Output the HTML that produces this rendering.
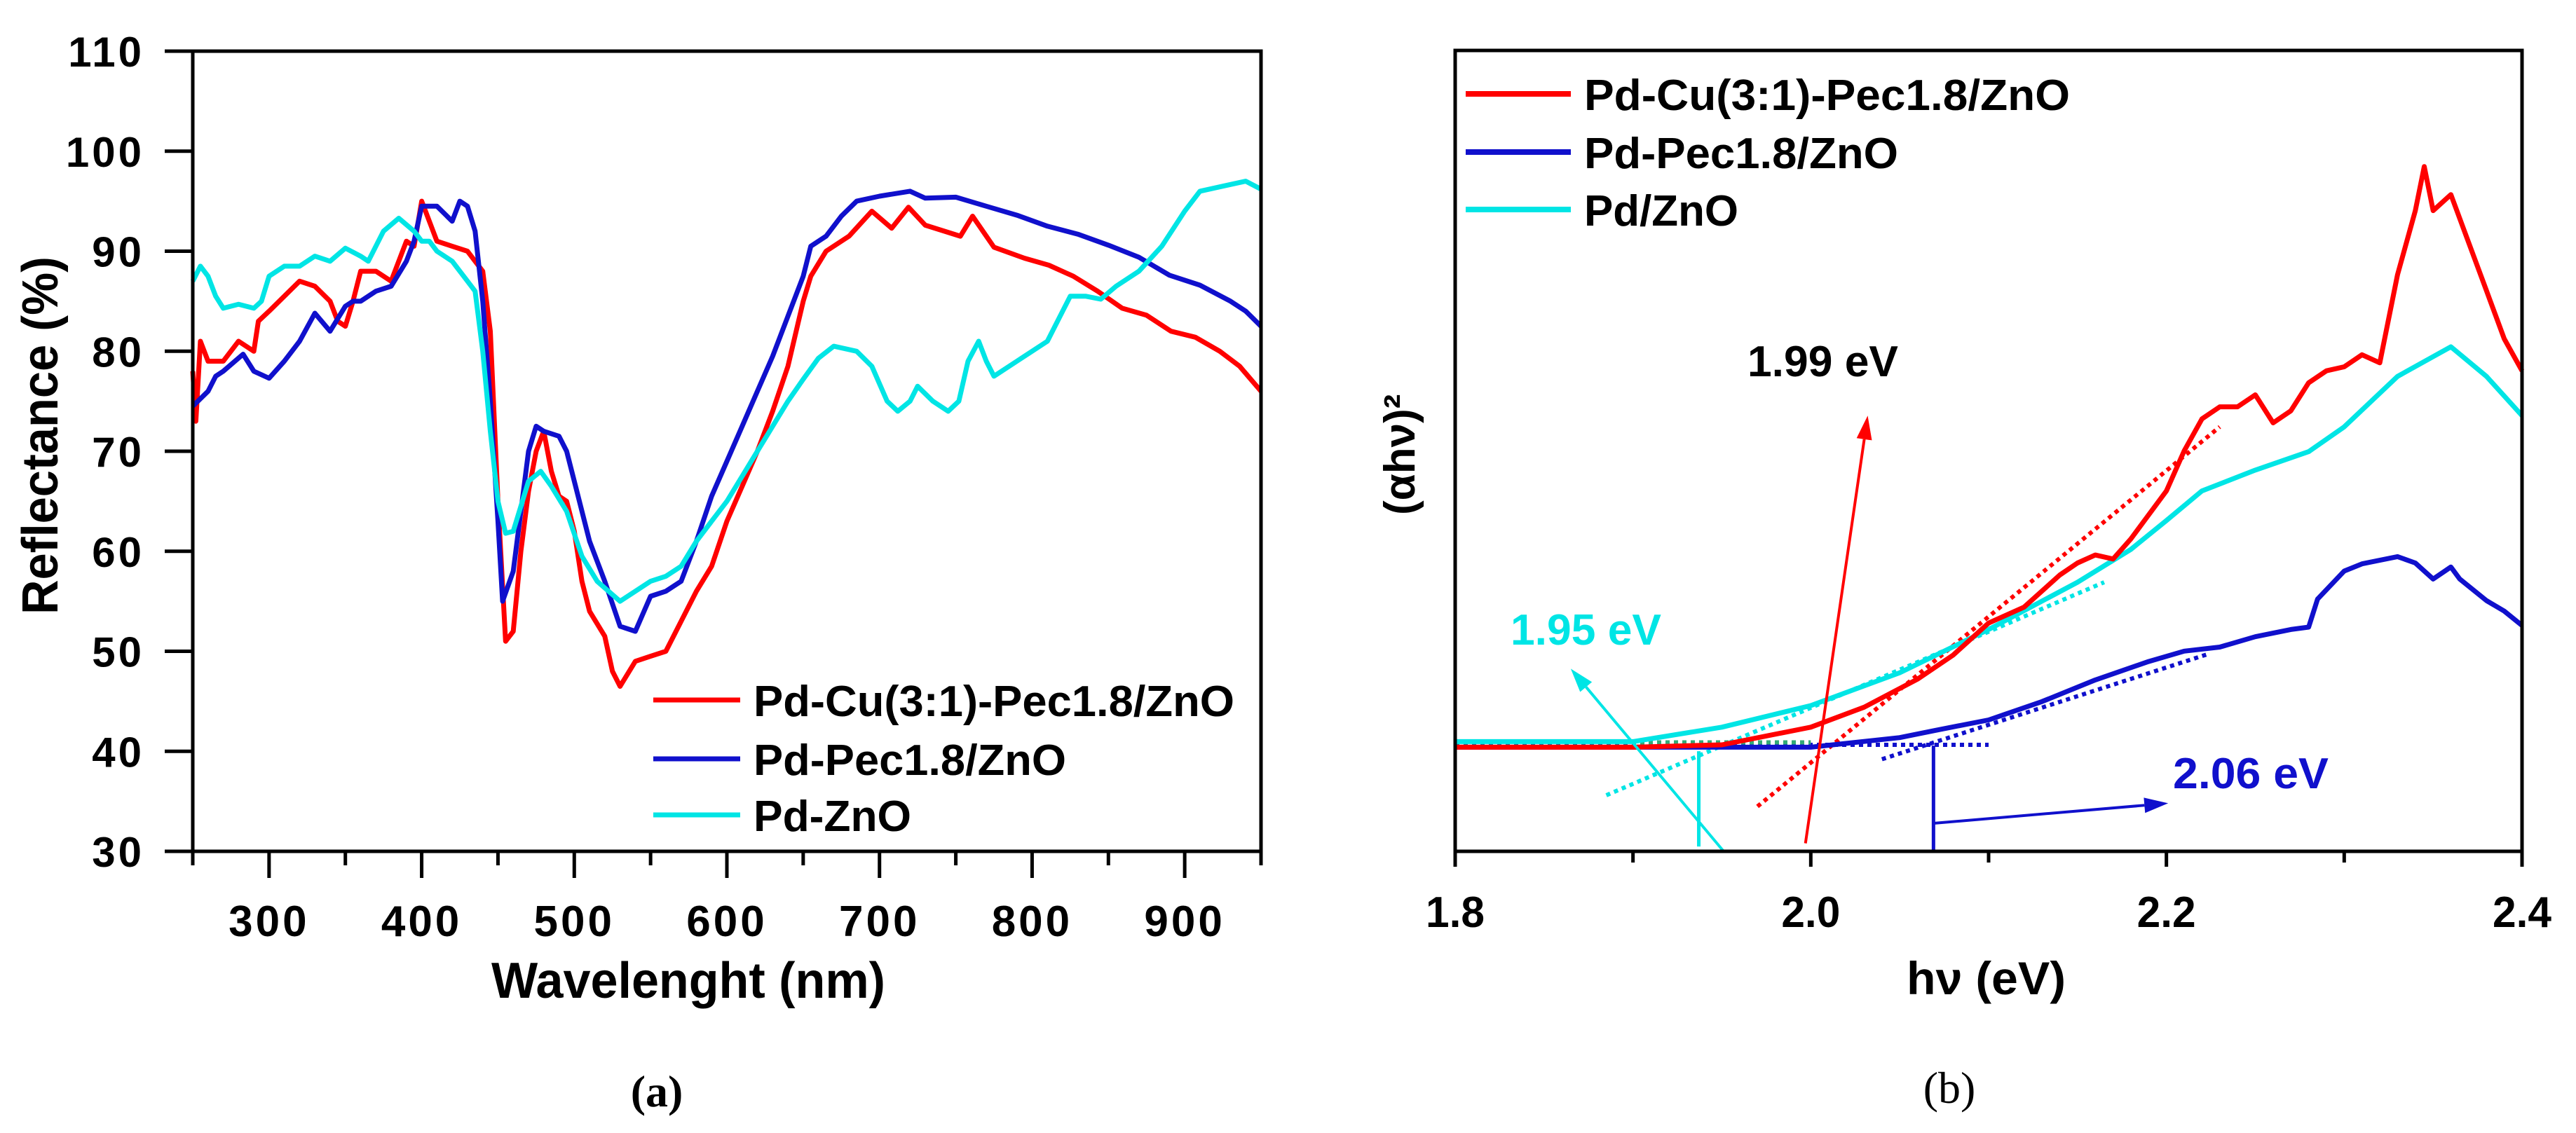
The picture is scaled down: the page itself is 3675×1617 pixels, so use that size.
<!DOCTYPE html>
<html><head><meta charset="utf-8">
<style>
html,body{margin:0;padding:0;background:#fff;}
svg{display:block;}
text{font-family:"Liberation Sans",sans-serif;}
</style></head>
<body>
<svg id="fig" width="3675" height="1617" viewBox="0 0 3675 1617" xmlns="http://www.w3.org/2000/svg">
  <rect x="0" y="0" width="3675" height="1617" fill="#fff"/>
  <g id="chartA"></g>
  <g id="chartB"></g>
</svg>
<script>
// ---------- Chart (a) data ----------
const aXTicks = [300,400,500,600,700,800,900];
const aYTicks = [30,40,50,60,70,80,90,100,110];
const aSeriesNames = ["Pd-Cu(3:1)-Pec1.8/ZnO","Pd-Pec1.8/ZnO","Pd-ZnO"];
const redX = [250,252,255,260,270,280,290,293,300,310,320,330,340,345,350,355,360,370,380,390,395,400,405,410,420,430,440,445,450,455,460,465,470,475,480,485,490,495,500,505,510,520,525,530,540,550,560,570,580,590,600,610,620,630,640,650,655,665,680,695,708,719,730,753,761,775,795,811,827,843,859,875,891,907,923,936,950];
const redY = [78,73,81,79,79,81,80,83,84,85.5,87,86.5,85,83,82.5,85,88,88,87,91,90.5,95,93,91,90.5,90,88,82,65,51,52,60,66,70,72,68,65.5,65,62,57,54,51.5,48,46.5,49,49.5,50,53,56,58.5,63,66.5,70,74,78.5,85,87.5,90,91.5,94,92.3,94.4,92.6,91.5,93.5,90.4,89.3,88.6,87.5,86,84.3,83.6,82,81.4,80,78.5,76];
const blueX = [250,260,265,270,283,290,300,310,320,330,340,350,355,360,370,380,390,395,400,410,420,425,430,435,440,445,450,453,460,465,470,475,480,490,495,500,510,520,530,540,550,560,570,580,590,600,610,620,630,640,650,655,665,675,685,700,720,730,750,770,790,810,830,850,870,890,910,930,940,950];
const blueY = [74.5,76,77.5,78,79.7,78,77.3,79,81,83.8,82,84.5,85,85,86,86.5,89,91,94.5,94.5,93,95,94.5,92,85,75,63,55,58,64,70,72.5,72,71.5,70,67,61,57,52.5,52,55.5,56,57,61,65.5,69,72.5,76,79.5,83.5,87.5,90.5,91.5,93.5,95,95.5,96,95.3,95.4,94.5,93.6,92.5,91.7,90.6,89.4,87.6,86.6,85,84,82.5];
const cyanX = [250,255,260,265,270,280,290,295,300,310,320,330,340,350,360,365,375,385,395,400,405,410,420,430,435,440,445,450,455,460,465,470,478,485,495,505,515,530,540,550,560,570,580,590,600,610,620,630,640,650,660,670,685,695,705,712,720,725,735,745,752,758,765,770,775,790,810,820,825,835,845,855,870,885,900,910,925,940,950];
const cyanY = [87,88.5,87.5,85.5,84.3,84.7,84.3,85,87.5,88.5,88.5,89.5,89,90.3,89.5,89,92,93.3,92,91,91,90,89,87,86,80,72,65,61.8,62,64.5,67,68,66.5,64,59.5,57,55,56,57,57.5,58.5,61,63,65,67.5,70,72.5,75,77.2,79.3,80.5,80,78.5,75,74,75,76.5,75,74,75,79,81,79,77.5,79,81,84,85.5,85.5,85.2,86.5,88,90.5,94,96,96.5,97,96.2];

// ---------- Chart (b) data ----------
const bXTicks = [1.8,2.0,2.2,2.4];
const bXMinor = [1.9,2.1,2.3];
const bSeriesNames = ["Pd-Cu(3:1)-Pec1.8/ZnO","Pd-Pec1.8/ZnO","Pd/ZnO"];
const rRedX = [1.80,1.90,1.95,2.00,2.03,2.06,2.08,2.10,2.12,2.14,2.15,2.16,2.17,2.18,2.20,2.21,2.22,2.23,2.24,2.25,2.26,2.27,2.28,2.29,2.30,2.31,2.32,2.33,2.34,2.345,2.35,2.36,2.37,2.38,2.39,2.40];
const rRedY = [13,13,13.3,15.5,18,21.5,24.5,28.5,30.5,34.5,36,37,36.5,39,45,50,54,55.5,55.5,57,53.5,55,58.5,60,60.5,62,61,72,80,85.5,80,82,76,70,64,60];
const rBlueX = [1.80,1.90,2.00,2.05,2.07,2.10,2.13,2.16,2.19,2.21,2.23,2.25,2.27,2.28,2.285,2.30,2.31,2.33,2.34,2.35,2.36,2.365,2.38,2.39,2.40];
const rBlueY = [13,13,13,14.2,15.1,16.4,18.7,21.4,23.7,25,25.5,26.8,27.7,28,31.5,35,35.9,36.8,36,34,35.5,34,31.3,30,28.2];
const rCyanX = [1.80,1.90,1.95,2.00,2.05,2.10,2.15,2.18,2.20,2.22,2.25,2.28,2.30,2.33,2.36,2.38,2.40];
const rCyanY = [13.7,13.7,15.5,18.2,22.3,27.7,33.6,37.7,41.3,45,47.6,49.9,53,59.3,63,59.3,54.4];
const gapRed = 1.99, gapCyan = 1.95, gapBlue = 2.06;

const NS = "http://www.w3.org/2000/svg";
function mk(parent, tag, attrs, txt){
  const e = document.createElementNS(NS, tag);
  for (const k in attrs) e.setAttribute(k, attrs[k]);
  if (txt !== undefined) e.textContent = txt;
  parent.appendChild(e);
  return e;
}
const RED="#ff0000", BLUE="#1010cc", CYAN="#00e5e5";

// ---------- Chart (a) ----------
const A = {l:275, r:1799, t:73, b:1215, x0:250, x1:950, y0:30, y1:110};
const ax = v => A.l + (v - A.x0) / (A.x1 - A.x0) * (A.r - A.l);
const ay = v => A.b - (v - A.y0) / (A.y1 - A.y0) * (A.b - A.t);
const gA = document.getElementById("chartA");

function linePath(xs, ys, fx, fy){
  return xs.map((x,i)=>(i?"L":"M")+fx(x).toFixed(1)+","+fy(ys[i]).toFixed(1)).join(" ");
}
const aData = [[redX,redY,RED],[blueX,blueY,BLUE],[cyanX,cyanY,CYAN]];
aData.forEach((d,i)=>{
  const p = mk(gA,"path",{d:linePath(d[0],d[1],ax,ay),fill:"none",stroke:d[2],"stroke-width":7,"stroke-linejoin":"round"});
  
  
});
const frameA = mk(gA,"path",{d:`M${A.l-40},${A.t} H${A.r} V${A.b} H${A.l-40} M${A.l},${A.t} V${A.b}`,fill:"none",stroke:"#000","stroke-width":5});


aYTicks.forEach(v=>{
  const t = mk(gA,"line",{x1:A.l-40,x2:A.l,y1:ay(v),y2:ay(v),stroke:"#000","stroke-width":5});
  
  
  const l = mk(gA,"text",{x:206,y:ay(v)+22,"text-anchor":"end","font-size":60,"font-weight":"bold","letter-spacing":"4"},String(v));
  
  
});
for (let v=250; v<=950; v+=50){
  const major = v%100===0;
  const t = mk(gA,"line",{x1:ax(v),x2:ax(v),y1:A.b,y2:A.b+(major?38:20),stroke:"#000","stroke-width":5});
  
  
}
aXTicks.forEach(v=>{
  const l = mk(gA,"text",{x:ax(v),y:1336,"text-anchor":"middle","font-size":62,"font-weight":"bold","letter-spacing":"4"},String(v));
  
  
});
const xtA = mk(gA,"text",{x:701,y:1424,"font-size":72,"font-weight":"bold",textLength:562,lengthAdjust:"spacingAndGlyphs"},"Wavelenght (nm)");


const ytA = mk(gA,"text",{x:0,y:0,"font-size":72,"font-weight":"bold",textLength:511,lengthAdjust:"spacingAndGlyphs",transform:"translate(82,877) rotate(-90)"},"Reflectance (%)");


const legA = [[999,RED,686],[1083,BLUE,446],[1163,CYAN,225]];
legA.forEach((r,i)=>{
  const ln = mk(gA,"line",{x1:932,x2:1056,y1:r[0],y2:r[0],stroke:r[1],"stroke-width":7});
  
  
  const tx = mk(gA,"text",{x:1075,y:r[0]+23,"font-size":62,"font-weight":"bold",textLength:r[2],lengthAdjust:"spacingAndGlyphs"},aSeriesNames[i]);
  
  
});
const capA = mk(gA,"text",{x:937,y:1579,"text-anchor":"middle",style:"font-family:'Liberation Serif',serif;font-size:64px;font-weight:bold"},"(a)");



// ---------- Chart (b) ----------
const B = {l:2076, r:3598, t:72, b:1215, x0:1.8, x1:2.4, y0:0, y1:100};
const bx = v => B.l + (v - B.x0) / (B.x1 - B.x0) * (B.r - B.l);
const by = v => B.b - (v - B.y0) / (B.y1 - B.y0) * (B.b - B.t);
const gB = document.getElementById("chartB");

const dots = [
  [1.80,13.3,2.10,13.3,BLUE],[1.80,13.6,2.00,13.6,"#33aa77"],
  [1.97,5.6,2.23,53,RED],[1.885,7,2.165,33.6,CYAN],[2.04,11.5,2.223,24.6,BLUE]
];
dots.forEach(d=>{
  const e = mk(gB,"line",{x1:bx(d[0]),y1:by(d[1]),x2:bx(d[2]),y2:by(d[3]),stroke:d[4],"stroke-width":6,"stroke-dasharray":"6 6"});
  
  
});
const bData = [[rBlueX,rBlueY,BLUE],[rCyanX,rCyanY,CYAN],[rRedX,rRedY,RED]];
bData.forEach((d,i)=>{
  const p = mk(gB,"path",{d:linePath(d[0],d[1],bx,by),fill:"none",stroke:d[2],"stroke-width":7,"stroke-linejoin":"round"});
  
  
});
function arrow(x1,y1,x2,y2,col,name){
  const X1=bx(x1),Y1=by(y1),X2=bx(x2),Y2=by(y2);
  const ang=Math.atan2(Y2-Y1,X2-X1), L=34, W=11;
  const hx=X2-L*Math.cos(ang), hy=Y2-L*Math.sin(ang);
  const g = mk(gB,"g",{});
  
  
  mk(g,"line",{x1:X1,y1:Y1,x2:hx,y2:hy,stroke:col,"stroke-width":4});
  mk(g,"polygon",{points:`${X2},${Y2} ${hx-W*Math.sin(ang)},${hy+W*Math.cos(ang)} ${hx+W*Math.sin(ang)},${hy-W*Math.cos(ang)}`,fill:col});
}
arrow(gapRed+0.007,1,2.032,54.4,RED,'arrow-1-99');
arrow(1.951,0,1.865,22.8,CYAN,'arrow-1-95');
arrow(gapBlue+0.009,3.5,2.201,6,BLUE,'arrow-2-06');
const vc = mk(gB,"line",{x1:bx(1.937),x2:bx(1.937),y1:by(0.6),y2:by(12.5),stroke:CYAN,"stroke-width":5});


const vb = mk(gB,"line",{x1:bx(gapBlue+0.009),x2:bx(gapBlue+0.009),y1:by(0),y2:by(13.2),stroke:BLUE,"stroke-width":5});


const l1 = mk(gB,"text",{x:2493,y:537,"font-size":62,"font-weight":"bold",textLength:215,lengthAdjust:"spacingAndGlyphs",fill:"#000"},gapRed.toFixed(2)+" eV");


const l2 = mk(gB,"text",{x:2155,y:920,"font-size":62,"font-weight":"bold",textLength:215,lengthAdjust:"spacingAndGlyphs",fill:CYAN},gapCyan.toFixed(2)+" eV");


const l3 = mk(gB,"text",{x:3100,y:1125,"font-size":62,"font-weight":"bold",textLength:222,lengthAdjust:"spacingAndGlyphs",fill:BLUE},gapBlue.toFixed(2)+" eV");


const frameB = mk(gB,"rect",{x:B.l,y:B.t,width:B.r-B.l,height:B.b-B.t,fill:"none",stroke:"#000","stroke-width":5});


bXTicks.forEach(v=>{
  const t = mk(gB,"line",{x1:bx(v),x2:bx(v),y1:B.b,y2:B.b+22,stroke:"#000","stroke-width":5});
  
  
  const l = mk(gB,"text",{x:bx(v),y:1323,"text-anchor":"middle","font-size":62,"font-weight":"bold",textLength:84,lengthAdjust:"spacingAndGlyphs"},v.toFixed(1));
  
  
});
bXMinor.forEach(v=>{
  const t = mk(gB,"line",{x1:bx(v),x2:bx(v),y1:B.b,y2:B.b+16,stroke:"#000","stroke-width":5});
  
  
});
const xtB = mk(gB,"text",{x:2720,y:1419,"font-size":66,"font-weight":"bold",textLength:227,lengthAdjust:"spacingAndGlyphs"},"hν (eV)");


const ytB = mk(gB,"text",{x:0,y:0,"font-size":62,"font-weight":"bold",transform:"translate(2018,735) rotate(-90)"},"(αhν)²");


const legB = [[134,RED,693],[217,BLUE,448],[299,CYAN,220]];
legB.forEach((r,i)=>{
  const ln = mk(gB,"line",{x1:2091,x2:2241,y1:r[0],y2:r[0],stroke:r[1],"stroke-width":8});
  
  
  const tx = mk(gB,"text",{x:2260,y:r[0]+23,"font-size":62,"font-weight":"bold",textLength:r[2],lengthAdjust:"spacingAndGlyphs"},bSeriesNames[i]);
  
  
});
const capB = mk(gB,"text",{x:2781,y:1574,"text-anchor":"middle",style:"font-family:'Liberation Serif',serif;font-size:64px"},"(b)");


</script>
</body></html>
